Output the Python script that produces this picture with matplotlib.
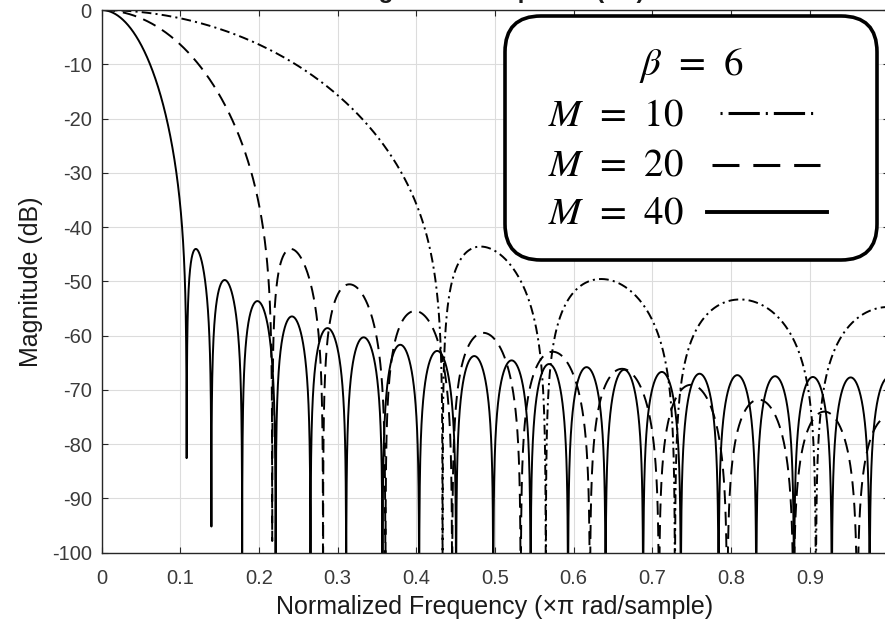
# -*- coding: utf-8 -*-
"""
Kaiser window magnitude responses, beta = 6, three lengths.
"""

import numpy as np
import matplotlib.pyplot as plt
import matplotlib.transforms as mtransforms
from matplotlib.patches import FancyBboxPatch
from matplotlib.lines import Line2D

# Parameters

BETA = 6
M_VALUES = [10, 20, 40]
M_LABELS = ['$M\\;\\,=\\;\\,10$', '$M\\;\\,=\\;\\,20$', '$M\\;\\,=\\;\\,40$']
N_FREQ = 8192

X_TICKS = [0, 0.1, 0.2, 0.3, 0.4, 0.5, 0.6, 0.7, 0.8, 0.9, 1.0]
X_TICK_LABELS = ['0', '0.1', '0.2', '0.3', '0.4', '0.5', '0.6', '0.7',
                 '0.8', '0.9', '']
Y_TICKS = [-100, -90, -80, -70, -60, -50, -40, -30, -20, -10, 0]

# plot dash patterns (points)
STYLES = {10: (0, (7, 3, 1.5, 3)), 20: (0, (10, 5.5)), 40: '-'}

W_PX = 885
H_PX = 624
INK = '#262626'

plt.rcParams['font.family'] = ['Liberation Sans', 'DejaVu Sans']
plt.rcParams['mathtext.fontset'] = 'stix'
plt.rcParams['axes.unicode_minus'] = False
plt.rcParams['lines.scale_dashes'] = False


def kaiser_response(m_value):
    """dB magnitude of a Kaiser window of length M+1, 0 dB at DC"""
    window = np.kaiser(m_value + 1, BETA)
    spectrum = np.fft.fft(window, 2 * N_FREQ)[:N_FREQ]
    mag = np.abs(spectrum) / np.abs(spectrum[0])
    freq = np.arange(N_FREQ) / N_FREQ
    return freq, 20 * np.log10(np.maximum(mag, 1e-12))


def px(x_pix, y_pix):
    """image pixel (y down) -> display pixel (y up)"""
    return x_pix, H_PX - y_pix


fig = plt.figure(figsize=(W_PX / 100, H_PX / 100), dpi=100)
ax = fig.add_axes([101.5 / W_PX, 1 - 552.7 / H_PX, 787 / W_PX, 542.7 / H_PX])

for m_value in M_VALUES:
    freq, mag_db = kaiser_response(m_value)
    ax.plot(freq, mag_db, color='k', linewidth=1.4,
            linestyle=STYLES[m_value])

ax.set_xlim(0, 1)
ax.set_ylim(-100, 0)
ax.set_xticks(X_TICKS)
ax.set_xticklabels(X_TICK_LABELS)
ax.set_yticks(Y_TICKS)
ax.grid(True, color='#dcdcdc', linewidth=0.8)
ax.set_axisbelow(True)
for spine in ax.spines.values():
    spine.set_color(INK)
    spine.set_linewidth(1.0)
ax.tick_params(direction='in', length=4.5, width=0.8, color=INK,
               labelcolor='#3a3a3a', labelsize=14.5,
               top=True, right=True)
ax.tick_params(axis='x', pad=12)
ax.tick_params(axis='y', pad=7)

ax.set_xlabel('Normalized Frequency (×π rad/sample)', fontsize=18,
              color='#1a1a1a', labelpad=5)
ax.set_ylabel('Magnitude (dB)', fontsize=18, color='#1a1a1a', labelpad=6)

# title mostly cut off by the top edge
fig.text(495 / W_PX, 1 + 2 / H_PX, 'Magnitude Response (dB)', fontsize=17.5,
         fontweight='bold', color='#1a1a1a', ha='center', va='baseline')

# hand-drawn legend box
DISP = mtransforms.IdentityTransform()
box_x, box_y = px(505, 260)
fig.patches.append(FancyBboxPatch((box_x, box_y), 372, 244,
                                  boxstyle='round,pad=0,rounding_size=36',
                                  facecolor='white', edgecolor='k',
                                  linewidth=2.6, transform=DISP,
                                  figure=fig, zorder=5))

tx, ty = px(691, 75)
fig.text(tx, ty, '$\\beta\\;\\,=\\;\\,6$', fontsize=28, ha='center',
         va='baseline', transform=DISP, zorder=6)

LABEL_BASE = [125, 176, 223]
SAMPLE_Y = [113, 165, 212]
SAMPLE_X = [(720, 813), (712, 820), (707, 827)]
SAMPLE_STYLE = [(0, (1.5, 4.3, 22.5, 4.3)), (0, (19.4, 10)), '-']
SAMPLE_LW = [2.2, 2.2, 2.8]

for label, base, ypos, (x_a, x_b), style, width in zip(
        M_LABELS, LABEL_BASE, SAMPLE_Y, SAMPLE_X, SAMPLE_STYLE, SAMPLE_LW):
    lx, ly = px(548, base)
    fig.text(lx, ly, label, fontsize=28, ha='left', va='baseline',
             transform=DISP, zorder=6)
    ya = H_PX - ypos
    fig.lines.append(Line2D([x_a, x_b], [ya, ya], color='k', linewidth=width,
                            linestyle=style, transform=DISP, figure=fig,
                            zorder=6))

plt.savefig('out.png', dpi=100)
